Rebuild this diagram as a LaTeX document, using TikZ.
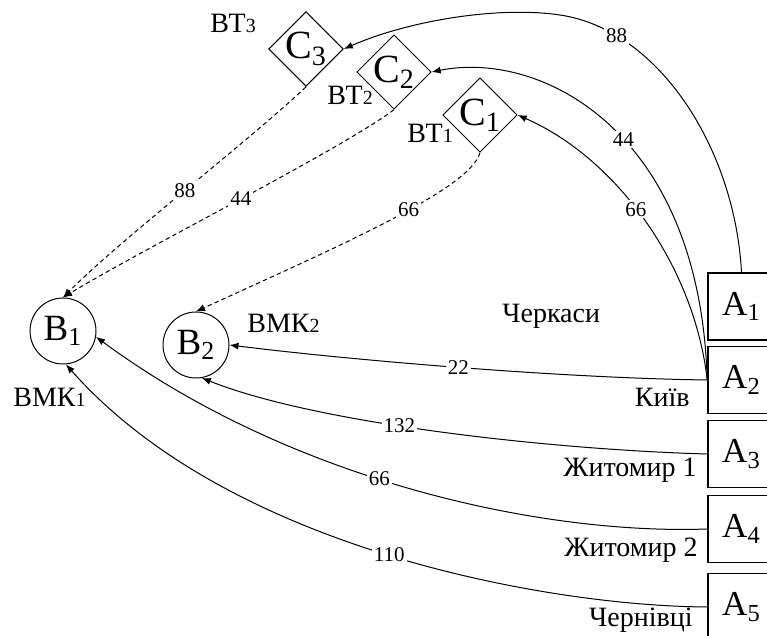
\documentclass[tikz,border=0pt]{standalone}
\usepackage{fontspec}
\setmainfont{Liberation Serif}
\usetikzlibrary{arrows.meta,shapes.geometric}

\newcommand{\smnum}[1]{{\fontsize{10}{11}\selectfont #1}}

\tikzset{
    src/.style={draw, line width=0.8pt, minimum width=33.5pt, minimum height=33.5pt,
        inner sep=0pt, font=\fontsize{17.5}{19}\selectfont},
    hub/.style={draw, circle, line width=0.5pt, minimum size=33pt, inner sep=0pt,
        font=\fontsize{18.5}{20}\selectfont},
    store/.style={draw, diamond, line width=0.5pt, minimum width=32.5pt, minimum height=32.5pt,
        inner sep=0pt, font=\fontsize{20}{22}\selectfont},
    place/.style={inner sep=0pt, font=\fontsize{14}{16}\selectfont},
    dist/.style={fill=white, inner sep=1pt, font=\fontsize{10.5}{12}\selectfont},
    route/.style={-{Latex[length=4.5pt,width=3.5pt]}, line width=0.5pt},
    back/.style={route, dash pattern=on 2.2pt off 1.6pt}
}

\begin{document}
\begin{tikzpicture}[x=0.5pt, y=-0.5pt]
    \useasboundingbox (0,0) rectangle (767,636);

    % sources
    \node[src] (A1) at (741.5,306.5) {A\textsubscript{1}};
    \node[src] (A2) at (741.5,380) {A\textsubscript{2}};
    \node[src] (A3) at (741.5,454) {A\textsubscript{3}};
    \node[src] (A4) at (741.5,529) {A\textsubscript{4}};
    \node[src] (A5) at (741.5,607) {A\textsubscript{5}};

    % hubs and stores
    \node[hub] (B1) at (63,331) {B\textsubscript{1}};
    \node[hub] (B2) at (196,345) {B\textsubscript{2}};
    \node[store] (C1) at (480,115) {C\textsubscript{1}};
    \node[store] (C2) at (394,72) {C\textsubscript{2}};
    \node[store] (C3) at (306,49) {C\textsubscript{3}};

    % place names
    \node[place, anchor=base west] (cherkasy) at (502,323) {Черкаси};
    \node[place, anchor=base east] (kyiv) at (690,407) {Київ};
    \node[place, anchor=base east] (zhyt1) at (697,477) {Житомир 1};
    \node[place, anchor=base east] (zhyt2) at (698,557) {Житомир 2};
    \node[place, anchor=base east] (cherniv) at (693,627) {Чернівці};
    \node[place, anchor=base west] (vt1) at (407,143) {ВТ\smnum{1}};
    \node[place, anchor=base west] (vt2) at (327,105) {ВТ\smnum{2}};
    \node[place, anchor=base west] (vt3) at (210,33) {ВТ\smnum{3}};
    \node[place, anchor=base west] (vmk1) at (13,407) {ВМК\smnum{1}};
    \node[place, anchor=base west] (vmk2) at (247,333) {ВМК\smnum{2}};

    % routes to stores
    \draw[route] (A1.north) .. controls (735,150) and (660,30) .. (560,15) node[dist, pos=0.8] {88}
        .. controls (500,6) and (410,20) .. (C3.east);
    \draw[route] (A2.west) .. controls (700,130) and (540,50) .. (C2.east) node[dist, pos=0.45] {44};
    \draw[route] (A2.west) .. controls (695,270) and (620,160) .. (C1.east) node[dist, pos=0.55] {66};

    % routes from stores
    \draw[back] (C3.south) .. controls (250,140) and (120,240) .. (B1.north) node[dist, pos=0.5] {88};
    \draw[back] (C2.south) .. controls (340,150) and (150,245) .. (B1.north) node[dist, pos=0.5] {44};
    \draw[back] (C1.south) .. controls (470,190) and (330,250) .. (B2.north) node[dist, pos=0.42] {66};

    % routes to hubs
    \draw[route] (A2.west) .. controls (560,378) and (350,360) .. (B2.east) node[dist, pos=0.5] {22};
    \draw[route] (A3.west) .. controls (560,450) and (320,425) .. (B2.-80) node[dist, pos=0.58] {132};
    \draw[route] (A4.west) .. controls (540,535) and (290,480) .. (B1.-10) node[dist, pos=0.55] {66};
    \draw[route] (A5.west) .. controls (550,606) and (230,550) .. (B1.-85) node[dist, pos=0.5] {110};
\end{tikzpicture}
\end{document}
